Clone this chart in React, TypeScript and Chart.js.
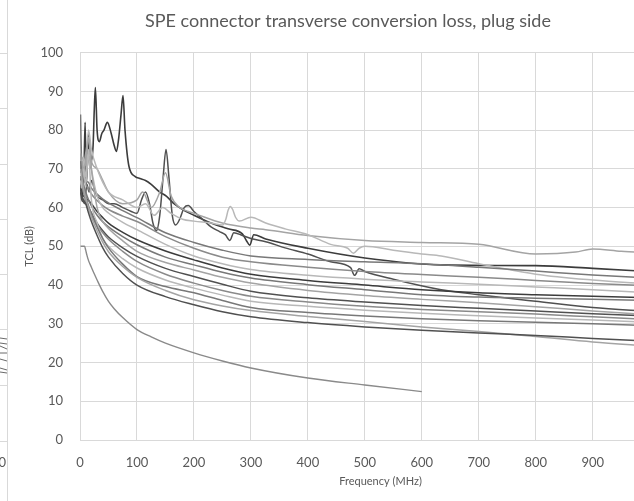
import React, { useEffect, useRef } from "react";
import { Chart, registerables } from "chart.js";

Chart.register(...registerables);

const TITLE = "SPE connector transverse conversion loss, plug side";
const X_TITLE = "Frequency (MHz)";
const Y_TITLE = "TCL (dB)";
const LEFT_PANEL_TICK = "0";

// Common frequency grid (MHz) for the smoother curves
const FREQ = [1, 3, 6, 10, 15, 20, 30, 40, 50, 75, 100, 150, 200, 250, 300, 400, 500, 600, 700, 800, 900, 1000];

const C5 = [71, 69, 70, 67, 66.5, 65, 63.5, 62.2, 61.2, 59.2, 57.4, 53.5, 51, 49, 47.5, 46.6, 46, 45.5, 44.6, 43.6, 42.6, 41.8];
const C6 = [69, 72, 68, 66, 64.8, 63.5, 61.8, 60.5, 59.5, 57.8, 56.4, 52.5, 49.5, 47.2, 46, 44.6, 43.5, 42.7, 42, 41.2, 40.4, 39.8];
const C7 = [73, 70, 72, 68, 75, 70, 63, 60, 58.6, 56.2, 54.3, 50.5, 47.5, 45.5, 44, 42.5, 41.5, 40.8, 40.2, 39.5, 38.8, 38];
const C8 = [66, 64, 63, 62.5, 61.8, 61, 59, 57.4, 56, 53.6, 51.7, 48.8, 46.5, 44.4, 42.8, 41.2, 40, 38.8, 38, 37.5, 37.1, 36.7];
const C9 = [84, 70, 66, 64, 62, 60.4, 58, 56.3, 55, 52.5, 50.4, 47.2, 45.2, 43.3, 41.8, 40.1, 38.8, 37.5, 36.9, 36.6, 36.3, 36];
const C10 = [74, 71, 69, 72, 78, 70, 60, 56.4, 54.6, 51.4, 48.7, 45.8, 43.9, 42, 40.5, 38.6, 37.3, 36.3, 35.4, 34.4, 33.3, 32.3];
const C11 = [64, 62, 61.5, 61, 60, 58.6, 56, 54, 52.4, 49.6, 47.4, 44.3, 42.2, 40.2, 38.4, 36.7, 35.6, 34.7, 34, 33.3, 32.6, 32];
const C12 = [68, 66, 64, 62, 60, 58, 55.5, 53.5, 51.8, 48.7, 46.1, 42.8, 40.5, 38.6, 37.1, 35.6, 34.5, 33.7, 33.1, 32.5, 31.8, 31.1];
const C13 = [67, 65, 70, 66, 74, 62, 56, 52, 50, 46.8, 44.4, 41.3, 39.2, 37.4, 35.8, 34.5, 33.5, 32.7, 32.1, 31.5, 31, 30.4];
const C14 = [72, 69, 66, 63, 60.5, 58.5, 55, 52, 49.6, 45.4, 42.2, 39.6, 38, 36, 34.2, 32.9, 32, 31.3, 30.8, 30.4, 30, 29.5];
const C16 = [70, 68, 65, 62.5, 60, 57.6, 54, 51, 48.6, 44.8, 42, 38.6, 36.2, 34.6, 33.4, 31.9, 30.6, 29.2, 28, 26.7, 25.3, 24.2];
const C15 = [65, 63, 62, 61, 58.6, 56.4, 52.8, 49.6, 47.2, 43, 40, 37, 34.9, 33.1, 31.8, 30.3, 29.2, 28.3, 27.6, 27, 26.2, 25.5];

// Spiky dark curve
const D1_F = [1, 4, 7, 9, 11, 13, 15, 17, 20, 23, 25, 27, 30, 34, 38, 42, 48, 55, 60, 64, 68, 72, 75.5, 79, 86, 97, 105, 115, 125, 140, 152, 165, 180, 200, 230, 260, 285, 292, 298, 305, 326, 400, 500, 634, 800, 900, 1000];
const D1_V = [65, 63, 70, 82, 66, 72, 79, 70, 72, 76, 85, 91, 80, 77, 79, 80, 82, 79, 76, 74.5, 78, 84, 88.9, 80, 70.6, 68, 67.5, 67, 66, 64, 62.9, 61, 59.5, 58, 56, 54.5, 53.2, 51.5, 50.3, 53, 51.9, 49.5, 47, 45.2, 45, 44.3, 43.5];

// Dark curve with resonance near 150 MHz
const D2_F = [1, 4, 8, 12, 16, 20, 25, 30, 40, 50, 60, 75, 90, 100, 108, 115, 122, 128, 134, 140, 146, 151, 156, 162, 168, 175, 183, 190, 200, 215, 230, 245, 255, 263, 270, 285, 300, 326, 360, 400, 440, 475, 482, 490, 500, 550, 634, 700, 800, 900, 1000];
const D2_V = [68, 63, 61, 66, 64, 67, 65, 63, 62, 61, 61, 60, 59, 58.5, 62, 64, 61, 56, 54, 58, 68, 75, 68, 58, 55.5, 57, 60, 60.5, 59, 57, 55, 53.8, 53, 51.5, 53.5, 52.8, 52, 51.2, 49.6, 48, 46, 44.5, 42.5, 44.2, 43.5, 41.5, 38.8, 37.5, 35.8, 34.2, 33.2];

// Light top curve
const T1_F = [1, 5, 10, 15, 20, 30, 40, 50, 75, 100, 110, 125, 140, 150, 160, 175, 190, 200, 250, 300, 326, 400, 500, 600, 700, 800, 870, 900, 950, 1000];
const T1_V = [72, 70, 74, 78, 72, 70, 67, 64, 61, 62, 64, 60, 64, 69, 63, 60, 59, 58.5, 56, 54.7, 54.3, 52.8, 51.5, 51, 50.5, 48, 48.5, 49.3, 48.7, 48.3];

// Light curve with bump near 265 MHz
const T2_F = [1, 5, 10, 15, 20, 30, 50, 75, 100, 115, 130, 145, 160, 180, 200, 230, 250, 256, 260, 264, 268, 273, 280, 300, 326, 360, 400, 440, 470, 480, 490, 500, 550, 600, 634, 700, 800, 900, 1000];
const T2_V = [70, 73, 71, 80, 75, 70, 64, 62, 60, 61, 58, 60, 58.5, 57, 56.5, 56, 55.5, 57, 59.3, 60.3, 59.5, 57.5, 56.5, 57.5, 56, 54.5, 53, 50.5, 49.5, 48.2, 49.5, 50, 49, 48, 47.5, 45.5, 42.8, 41.3, 40.3];

// Lowest curve (ends at 600 MHz)
const C17_F = [1, 3, 6, 8, 10, 12, 15, 20, 25, 30, 40, 50, 60, 75, 100, 125, 150, 200, 250, 300, 400, 500, 600];
const C17_V = [50, 50, 50, 50, 49, 47.8, 46.3, 44.6, 42.9, 41.3, 38.3, 35.8, 33.9, 31.6, 28.5, 26.6, 25, 22.5, 20.4, 18.6, 16, 14.2, 12.5];

const DARK = "#3c3c3c";
const DARK2 = "#505050";
const GRAY = "#787878";
const GRAY2 = "#8a8a8a";
const LIGHT = "#a4a4a4";
const LIGHT2 = "#b8b8b8";
const TEXT = "#595959";
const GRID = "#d9d9d9";
const FONT = "Lato, 'Open Sans', sans-serif";

function pts(f: number[], v: number[]) {
  return f.map((x, i) => ({ x, y: v[i] }));
}

function line(label: string, data: { x: number; y: number }[], color: string, width = 1.5) {
  return {
    label,
    data,
    borderColor: color,
    backgroundColor: color,
    borderWidth: width,
    pointRadius: 0,
    fill: false,
    cubicInterpolationMode: "monotone" as const,
  };
}

const leftPanelPlugin = {
  id: "leftPanel",
  afterDraw(chart: any) {
    const ctx = chart.ctx as CanvasRenderingContext2D;
    ctx.save();
    ctx.strokeStyle = GRID;
    ctx.lineWidth = 1;
    [53, 108, 164, 219, 274, 329, 385, 441].forEach((y) => {
      ctx.beginPath();
      ctx.moveTo(0, y + 0.5);
      ctx.lineTo(7, y + 0.5);
      ctx.stroke();
    });
    ctx.beginPath();
    ctx.moveTo(7.5, 0);
    ctx.lineTo(7.5, 501);
    ctx.stroke();
    ctx.strokeStyle = "#6a6a6a";
    [338, 342, 346, 352, 359, 367, 372].forEach((y, i) => {
      ctx.beginPath();
      ctx.moveTo(0, y + (i % 2));
      ctx.lineTo(7, y + 1 + (i % 3));
      ctx.stroke();
    });
    ctx.fillStyle = TEXT;
    ctx.font = `13px ${FONT}`;
    ctx.textAlign = "right";
    ctx.textBaseline = "middle";
    ctx.fillText(LEFT_PANEL_TICK, 6, 463);
    ctx.restore();
  },
};

export default function App() {
  const ref = useRef<HTMLCanvasElement>(null);
  useEffect(() => {
    if (!ref.current) return;
    const datasets = [
      line("C17", pts(C17_F, C17_V), GRAY2, 1.4),
      line("C15", pts(FREQ, C15), DARK2),
      line("C16", pts(FREQ, C16), LIGHT),
      line("C14", pts(FREQ, C14), GRAY),
      line("C13", pts(FREQ, C13), LIGHT2),
      line("C12", pts(FREQ, C12), GRAY2),
      line("C11", pts(FREQ, C11), DARK2),
      line("C10", pts(FREQ, C10), LIGHT),
      line("C9", pts(FREQ, C9), GRAY),
      line("C8", pts(FREQ, C8), DARK),
      line("C7", pts(FREQ, C7), LIGHT2),
      line("C6", pts(FREQ, C6), GRAY2),
      line("C5", pts(FREQ, C5), GRAY),
      line("T2", pts(T2_F, T2_V), LIGHT2),
      line("T1", pts(T1_F, T1_V), LIGHT),
      line("D2", pts(D2_F, D2_V), DARK2),
      line("D1", pts(D1_F, D1_V), DARK, 1.6),
    ];
    const chart = new Chart(ref.current, {
      type: "line",
      data: { datasets },
      plugins: [leftPanelPlugin],
      options: {
        animation: false,
        responsive: false,
        devicePixelRatio: 1,
        layout: { padding: { left: 0, right: 0, top: 0, bottom: 0 } },
        plugins: {
          legend: { display: false },
          tooltip: { enabled: false },
          title: {
            display: true,
            text: TITLE,
            color: TEXT,
            font: { family: FONT, size: 18, weight: "normal" },
            padding: { top: 10, bottom: 21 },
          },
        },
        scales: {
          x: {
            type: "linear",
            min: 0,
            max: 1055,
            ticks: {
              stepSize: 100,
              color: TEXT,
              font: { family: FONT, size: 13 },
              padding: 15,
              maxRotation: 0,
              callback: (v: any) => (Number(v) % 100 === 0 ? String(v) : ""),
            },
            grid: { color: GRID, drawTicks: false },
            border: { color: GRID },
            title: {
              display: true,
              text: X_TITLE,
              color: TEXT,
              font: { family: FONT, size: 11 },
              padding: { top: 0, bottom: 13 },
            },
            afterFit: (s: any) => {
              s.height = 61;
            },
          },
          y: {
            min: 0,
            max: 100,
            ticks: {
              stepSize: 10,
              color: TEXT,
              font: { family: FONT, size: 13 },
              padding: 17,
            },
            grid: { color: GRID, drawTicks: false },
            border: { color: GRID },
            title: {
              display: true,
              text: Y_TITLE,
              color: TEXT,
              font: { family: FONT, size: 11 },
              padding: { top: 23, bottom: 0 },
            },
            afterFit: (s: any) => {
              s.width = 80;
            },
          },
        },
      },
    } as any);
    return () => chart.destroy();
  }, []);
  return (
    <div
      style={{
        position: "absolute",
        left: 0,
        top: 0,
        width: 634,
        height: 501,
        overflow: "hidden",
        background: "#fff",
      }}
    >
      <canvas ref={ref} width={696} height={501} style={{ display: "block", width: 696, height: 501 }} />
    </div>
  );
}
